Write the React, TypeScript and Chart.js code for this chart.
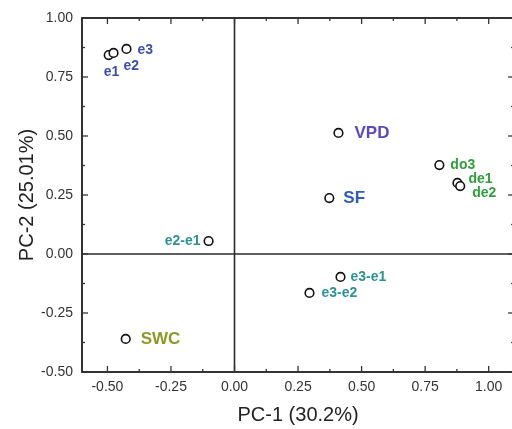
import React, { useEffect, useRef } from "react";
import { Chart, registerables } from "chart.js";

Chart.register(...registerables);

// ---- data ----
const pointNames = ["e1", "e2", "e3", "VPD", "SF", "do3", "de1", "de2", "e2-e1", "e3-e1", "e3-e2", "SWC"];
const pc1Values = [-0.495, -0.476, -0.425, 0.409, 0.373, 0.806, 0.877, 0.888, -0.102, 0.417, 0.295, -0.428];
const pc2Values = [0.843, 0.852, 0.869, 0.513, 0.237, 0.377, 0.301, 0.288, 0.055, -0.097, -0.165, -0.36];
const xTickValues = [-0.5, -0.25, 0, 0.25, 0.5, 0.75, 1.0];
const yTickValues = [-0.5, -0.25, 0, 0.25, 0.5, 0.75, 1.0];
const xTitle = "PC-1 (30.2%)";
const yTitle = "PC-2 (25.01%)";

// ---- styling (label placement / colours / sizes) ----
const FONT = "'Liberation Sans', Arial, sans-serif";
const BLUE = "#3a4fb0";
const GREEN = "#2f9e3c";
const TEAL = "#2a9494";
const labelStyle: Record<string, { dx: number; dy: number; color: string; size: number; align: CanvasTextAlign }> = {
  e1: { dx: -5, dy: 17, color: BLUE, size: 14, align: "left" },
  e2: { dx: 10, dy: 13, color: BLUE, size: 14, align: "left" },
  e3: { dx: 11, dy: 1, color: BLUE, size: 14, align: "left" },
  VPD: { dx: 16, dy: 0, color: "#5a48c2", size: 17, align: "left" },
  SF: { dx: 14, dy: 0, color: "#2f5cc2", size: 17, align: "left" },
  do3: { dx: 11, dy: 0, color: GREEN, size: 14, align: "left" },
  de1: { dx: 11, dy: -4, color: GREEN, size: 14, align: "left" },
  de2: { dx: 12, dy: 7, color: GREEN, size: 14, align: "left" },
  "e2-e1": { dx: -8, dy: 0, color: TEAL, size: 14, align: "right" },
  "e3-e1": { dx: 10, dy: 0, color: TEAL, size: 14, align: "left" },
  "e3-e2": { dx: 12, dy: 0, color: TEAL, size: 14, align: "left" },
  SWC: { dx: 15, dy: 0, color: "#8a9a24", size: 17, align: "left" },
};

const framePlugin = {
  id: "frameTicks",
  beforeDatasetsDraw(chart: any) {
    const { ctx, chartArea: a, scales } = chart;
    const xs = scales.x;
    const ys = scales.y;
    ctx.save();
    const seg = (x1: number, y1: number, x2: number, y2: number) => {
      ctx.beginPath();
      ctx.moveTo(x1, y1);
      ctx.lineTo(x2, y2);
      ctx.stroke();
    };
    // zero lines
    ctx.strokeStyle = "#2a2a2a";
    ctx.lineWidth = 1.6;
    const x0 = xs.getPixelForValue(0);
    const y0 = ys.getPixelForValue(0);
    seg(x0, a.top, x0, a.bottom);
    seg(a.left, y0, a.right, y0);
    // frame
    ctx.strokeStyle = "#1e1e1e";
    ctx.lineWidth = 1.8;
    ctx.strokeRect(a.left, a.top, a.right - a.left, a.bottom - a.top);
    // ticks (inward)
    ctx.lineWidth = 1.3;
    ctx.strokeStyle = "#333";
    const xt: number[] = [];
    xTickValues.forEach((v, i) => {
      xt.push(v);
      if (i < xTickValues.length - 1) xt.push((v + xTickValues[i + 1]) / 2);
    });
    xt.forEach((v, idx) => {
      const major = idx % 2 === 0;
      const len = major ? 6 : 3;
      const px = xs.getPixelForValue(v);
      seg(px, a.bottom, px, a.bottom - len);
      seg(px, a.top, px, a.top + len);
    });
    const yt: number[] = [];
    yTickValues.forEach((v, i) => {
      yt.push(v);
      if (i < yTickValues.length - 1) yt.push((v + yTickValues[i + 1]) / 2);
    });
    yt.forEach((v, idx) => {
      const major = idx % 2 === 0;
      const len = major ? 6 : 3;
      const py = ys.getPixelForValue(v);
      seg(a.left, py, a.left + len, py);
      seg(a.right, py, a.right - len, py);
    });
    ctx.restore();
  },
  afterDatasetsDraw(chart: any) {
    const { ctx, scales } = chart;
    ctx.save();
    ctx.textBaseline = "middle";
    pointNames.forEach((name, i) => {
      const st = labelStyle[name];
      const px = scales.x.getPixelForValue(pc1Values[i]);
      const py = scales.y.getPixelForValue(pc2Values[i]);
      ctx.font = `bold ${st.size}px ${FONT}`;
      ctx.fillStyle = st.color;
      ctx.textAlign = st.align;
      ctx.fillText(name, px + st.dx, py + st.dy);
    });
    ctx.restore();
  },
};

export default function App() {
  const ref = useRef<HTMLCanvasElement | null>(null);
  useEffect(() => {
    if (!ref.current) return;
    const chart = new Chart(ref.current, {
      type: "scatter",
      data: {
        datasets: [
          {
            data: pc1Values.map((x, i) => ({ x, y: pc2Values[i] })),
            pointRadius: 4.3,
            pointBorderWidth: 1.6,
            borderColor: "#111",
            backgroundColor: "#fff",
          },
        ],
      },
      options: {
        responsive: false,
        maintainAspectRatio: false,
        animation: false,
        layout: { padding: { left: 0, right: 5.5, top: 18, bottom: 0 } },
        plugins: { legend: { display: false }, tooltip: { enabled: false } },
        scales: {
          x: {
            type: "linear",
            min: -0.6,
            max: 1.1,
            afterBuildTicks: (s: any) => {
              s.ticks = xTickValues.map((v) => ({ value: v }));
            },
            afterFit: (s: any) => {
              s.height = 57;
            },
            grid: { display: false, drawTicks: false },
            border: { display: false },
            ticks: {
              padding: 7,
              color: "#333",
              font: { family: FONT, size: 14 },
              maxRotation: 0,
              autoSkip: false,
              callback: (v: any) => Number(v).toFixed(2),
            },
            title: {
              display: true,
              text: xTitle,
              color: "#222",
              font: { family: FONT, size: 20 },
              padding: { top: 0, bottom: 2 },
            },
          },
          y: {
            type: "linear",
            min: -0.5,
            max: 1.0,
            afterBuildTicks: (s: any) => {
              s.ticks = yTickValues.map((v) => ({ value: v }));
            },
            afterFit: (s: any) => {
              s.width = 82;
            },
            grid: { display: false, drawTicks: false },
            border: { display: false },
            ticks: {
              padding: 9,
              color: "#333",
              font: { family: FONT, size: 14 },
              autoSkip: false,
              callback: (v: any) => Number(v).toFixed(2),
            },
            title: {
              display: true,
              text: yTitle,
              color: "#222",
              font: { family: FONT, size: 20 },
              padding: { top: 15, bottom: 0 },
            },
          },
        },
      },
      plugins: [framePlugin],
    } as any);
    return () => chart.destroy();
  }, []);
  return (
    <div
      style={{
        position: "fixed",
        left: 0,
        top: 0,
        width: 512,
        height: 429,
        overflow: "hidden",
        background: "#fff",
      }}
    >
      <canvas ref={ref} width={520} height={429} style={{ display: "block" }} />
    </div>
  );
}
